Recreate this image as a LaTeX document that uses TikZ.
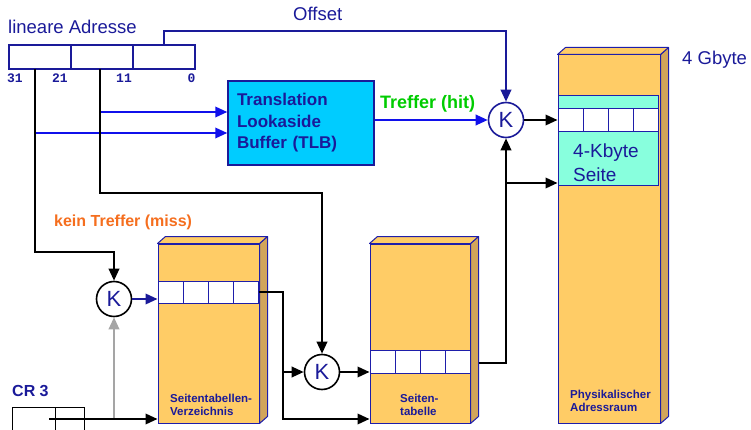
\documentclass[tikz,border=0pt]{standalone}
\usepackage{fontspec}
\setmainfont{Liberation Sans}
\setmonofont{Liberation Mono}
\usetikzlibrary{arrows.meta,calc}

\definecolor{navy}{RGB}{26,26,153}
\definecolor{edge}{RGB}{30,30,170}
\definecolor{hitblue}{RGB}{16,16,235}
\definecolor{hitgreen}{RGB}{0,204,0}
\definecolor{missorange}{RGB}{245,110,30}
\definecolor{tlbcyan}{RGB}{0,204,255}
\definecolor{colfront}{RGB}{255,204,102}
\definecolor{colside}{RGB}{210,165,90}
\definecolor{pagecyan}{RGB}{136,255,221}
\definecolor{crgray}{RGB}{165,165,165}

\tikzset{
  wire/.style={line width=2pt, black},
  bluewire/.style={line width=2pt, hitblue},
  navywire/.style={line width=2pt, navy},
  graywire/.style={line width=2pt, crgray},
  tip/.style={-{Triangle[length=12pt,width=10.5pt]}},
  regcell/.style={draw=navy, fill=white, line width=1.5pt, minimum width=62pt,
    minimum height=24pt, inner sep=0pt},
  crcell/.style={draw=black, fill=white, line width=1pt, minimum height=24pt, inner sep=0pt},
  joiner/.style={circle, draw=black, fill=white, line width=1.6pt, minimum size=35pt,
    inner sep=0pt, text=navy, font=\fontsize{22}{22}\selectfont},
  colface/.style={draw=edge, fill=colfront, line width=1pt, inner sep=0pt},
  slot/.style={draw=edge, fill=white, line width=1pt, minimum width=25pt, inner sep=0pt},
  bitno/.style={text=navy, font=\ttfamily\bfseries\fontsize{13}{13}\selectfont, inner sep=0pt},
  collabel/.style={text=navy, font=\bfseries\fontsize{11.5}{13}\selectfont, align=left,
    inner sep=0pt, anchor=base west},
}

% side and top faces of a 3D column whose front face is node #1
\newcommand\columnfaces[1]{%
  \filldraw[draw=edge, fill=colside, line width=1pt, line join=round]
    (#1.north east) -- ++(8,-7) -- ($(#1.south east)+(8,-7)$) -- (#1.south east) -- cycle;
  \filldraw[draw=edge, fill=colfront, line width=1pt, line join=round]
    (#1.north west) -- ++(8,-7) -- ($(#1.north east)+(8,-7)$) -- (#1.north east) -- cycle;
}

\begin{document}
\begin{tikzpicture}[x=1pt,y=-1pt]
\useasboundingbox (0,0) rectangle (751,430);

% ---------- linear address register ----------
\node[text=navy, font=\fontsize{18.5}{22}\selectfont, inner sep=0pt, anchor=base west]
  (title) at (8,34) {lineare Adresse};
\node[regcell] (r1) at (40,57) {};
\node[regcell] (r2) at (102,57) {};
\node[regcell] (r3) at (164,57) {};
\node[bitno, anchor=base] (b31) at (15,83) {31};
\node[bitno, anchor=base] (b21) at (60,83) {21};
\node[bitno, anchor=base] (b11) at (124,83) {11};
\node[bitno, anchor=base] (b0) at (191.5,83) {0};
\coordinate (dirtap) at (35,69);
\coordinate (tabtap) at (100,69);

% ---------- TLB ----------
\node[draw=navy, fill=tlbcyan, line width=1.5pt, minimum width=146pt, minimum height=84pt,
  text width=128pt, inner xsep=9pt, align=left, text=navy,
  font=\bfseries\fontsize{17}{21.5}\selectfont] (TLB) at (301,123)
  {Translation\\Lookaside\\Buffer (TLB)};

% ---------- 3D columns ----------
\node[colface, minimum width=101pt, minimum height=179pt] (SV) at (208.5,333.5) {};
\columnfaces{SV}
\node[colface, minimum width=100pt, minimum height=179pt] (ST) at (420,333.5) {};
\columnfaces{ST}
\node[colface, minimum width=102pt, minimum height=368pt] (PA) at (609,239) {};
\columnfaces{PA}

% directory entries
\foreach \i/\x in {1/170.5,2/195.5,3/220.5,4/245.5}
  \node[slot, minimum height=22pt] (sv\i) at (\x,292) {};
% page table entries
\foreach \i/\x in {1/382.5,2/407.5,3/432.5,4/457.5}
  \node[slot, minimum height=23pt] (st\i) at (\x,361.5) {};
% 4-Kbyte page in the physical address space
\node[draw=edge, fill=pagecyan, line width=1pt, minimum width=100pt, minimum height=90pt,
  inner sep=0pt] (page) at (608,141) {};
\foreach \i/\x in {1/570.5,2/595.5,3/620.5,4/645.5}
  \node[slot, minimum height=23pt] (pg\i) at (\x,120.5) {};
% multi-line labels are anchored at the baseline of their last line
\node[text=navy, font=\fontsize{19}{24}\selectfont, align=left, inner sep=0pt, anchor=base west]
  (pagelbl) at (573,182) {4-Kbyte\\Seite};

\node[collabel] (svlbl) at (170,415) {Seitentabellen-\\Verzeichnis};
\node[collabel] (stlbl) at (400,415) {Seiten-\\tabelle};
\node[collabel] (palbl) at (570,411) {Physikalischer\\Adressraum};
\node[text=navy, font=\fontsize{18.5}{22}\selectfont, inner sep=0pt, anchor=base west]
  (gbyte) at (682,65) {4 Gbyte};

% ---------- CR3 ----------
\node[text=navy, font=\bfseries\fontsize{16}{16}\selectfont, inner sep=0pt, anchor=base west]
  (crlbl) at (12,396) {CR 3};
\node[crcell, minimum width=43pt] (cr1) at (33.5,419) {};
\node[crcell, minimum width=29pt] (cr2) at (69.5,419) {};
\coordinate (crtap) at (49,419);

% ---------- combiners ----------
\node[joiner, draw=navy] (K1) at (506,120) {K};
\node[joiner] (K2) at (114,299) {K};
\node[joiner] (K3) at (322,372) {K};

% ---------- connectors ----------
% offset field straight to the page combiner
\draw[navywire, tip] (r3.north) -- ++(0,-13) -| (K1);
\node[text=navy, font=\fontsize{18.5}{22}\selectfont, inner sep=0pt, anchor=base west]
  (offlbl) at (293,21) {Offset};

% directory and table fields into the TLB
\draw[bluewire, tip] (tabtap |- 0,112) -- (TLB.west |- 0,112);
\draw[bluewire, tip] (dirtap |- 0,133) -- (TLB.west |- 0,133);

% TLB hit
\draw[bluewire, tip] (TLB.east |- K1) -- (K1);
\node[text=hitgreen, font=\bfseries\fontsize{18}{18}\selectfont, inner sep=0pt, anchor=base west]
  (hitlbl) at (380,109) {Treffer (hit)};

% TLB miss: page walk
\draw[wire, tip] (dirtap) -- ++(0,183) -| (K2);
\node[text=missorange, font=\bfseries\fontsize{16}{16}\selectfont, inner sep=0pt, anchor=base west]
  (misslbl) at (54,226) {kein Treffer (miss)};
\draw[wire, tip] (tabtap) -- ++(0,124) -| (K3);

\draw[graywire, tip] (K2 |- crtap) -- (K2);
\draw[wire, tip] (crtap) -- (crtap -| SV.west);
\draw[navywire, tip] (K2) -- (K2 -| SV.west);

\coordinate (svbus) at (283,0);
\draw[wire, tip] (sv4.east) -| (svbus |- 0,419) -- (ST.west |- 0,419);
\draw[wire, tip] (svbus |- K3) -- (K3);
\draw[wire, tip] (K3) -- (K3 -| ST.west);

\coordinate (stout) at ($(ST.east |- 0,363)+(8,0)$);
\draw[wire, tip] (stout) -| (K1);
\draw[wire, tip] (K1 |- 0,183) -- (PA.west |- 0,183);
\draw[wire, tip] (K1) -- (K1 -| PA.west);

\end{tikzpicture}
\end{document}
